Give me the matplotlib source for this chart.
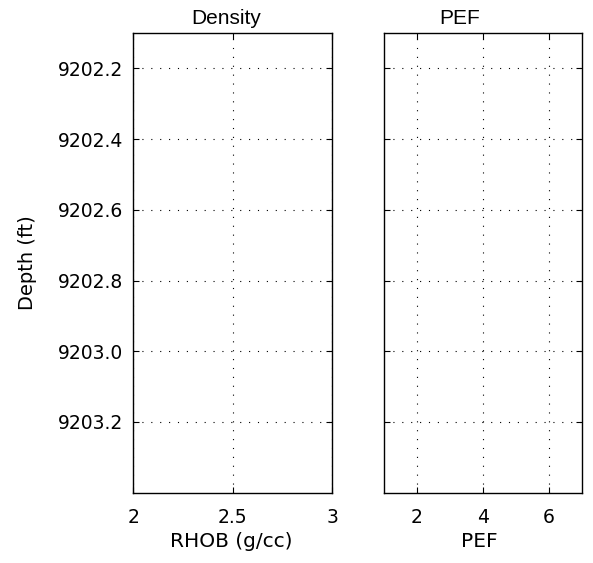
import numpy as np
import matplotlib.pyplot as plt

# limiti e tick delle due tracce (nessun dato disegnato)
depth_lim = [9202.1, 9203.4]
depth_ticks = [9202.2, 9202.4, 9202.6, 9202.8, 9203.0, 9203.2]
rhob_lim = [2, 3]
rhob_ticks = [2, 2.5, 3]
rhob_labels = ["2", "2.5", "3"]
pef_lim = [1, 7]
pef_ticks = [2, 4, 6]
titoli = ["Density", "PEF"]
xlabels = ["RHOB (g/cc)", "PEF"]

plt.rcParams['font.family'] = ['DejaVu Sans']

fig = plt.figure(figsize=(5.93, 5.63), dpi=100)
ax1 = fig.add_axes([0.2248, 0.1249, 0.3356, 0.8165])
ax2 = fig.add_axes([0.6476, 0.1249, 0.3334, 0.8165])

for ax in (ax1, ax2):
    ax.set_ylim(depth_lim[1], depth_lim[0])
    ax.set_yticks(depth_ticks)
    ax.grid(True, color='black', linestyle=(0, (1, 7)), linewidth=0.8)
    ax.tick_params(direction='in', length=4, width=0.8, top=True, right=True,
                   labelsize=13.5)
    ax.tick_params(axis='x', pad=11)
    ax.tick_params(axis='y', pad=7)
    for s in ax.spines.values():
        s.set_linewidth(1.0)

ax1.set_xlim(rhob_lim)
ax1.set_xticks(rhob_ticks)
ax1.set_xticklabels(rhob_labels)
ax1.set_yticklabels(["%.1f" % d for d in depth_ticks])
ax1.set_ylabel("Depth (ft)", fontsize=14, labelpad=15)
ax1.set_xlabel(xlabels[0], fontsize=14.5)
ax1.xaxis.set_label_coords(0.492, -0.107)
ax1.xaxis.label.set_va('center')
ax1.set_title(titoli[0], fontsize=15, family='Liberation Sans', pad=6.5, x=0.465)

ax2.set_xlim(pef_lim)
ax2.set_xticks(pef_ticks)
ax2.set_xticklabels([str(p) for p in pef_ticks])
ax2.set_yticklabels([])
ax2.set_xlabel(xlabels[1], fontsize=14.5)
ax2.xaxis.set_label_coords(0.482, -0.107)
ax2.xaxis.label.set_va('center')
ax2.set_title(titoli[1], fontsize=15, family='Liberation Sans', pad=6.5, x=0.381)

fig.savefig("out.png", dpi=100)
